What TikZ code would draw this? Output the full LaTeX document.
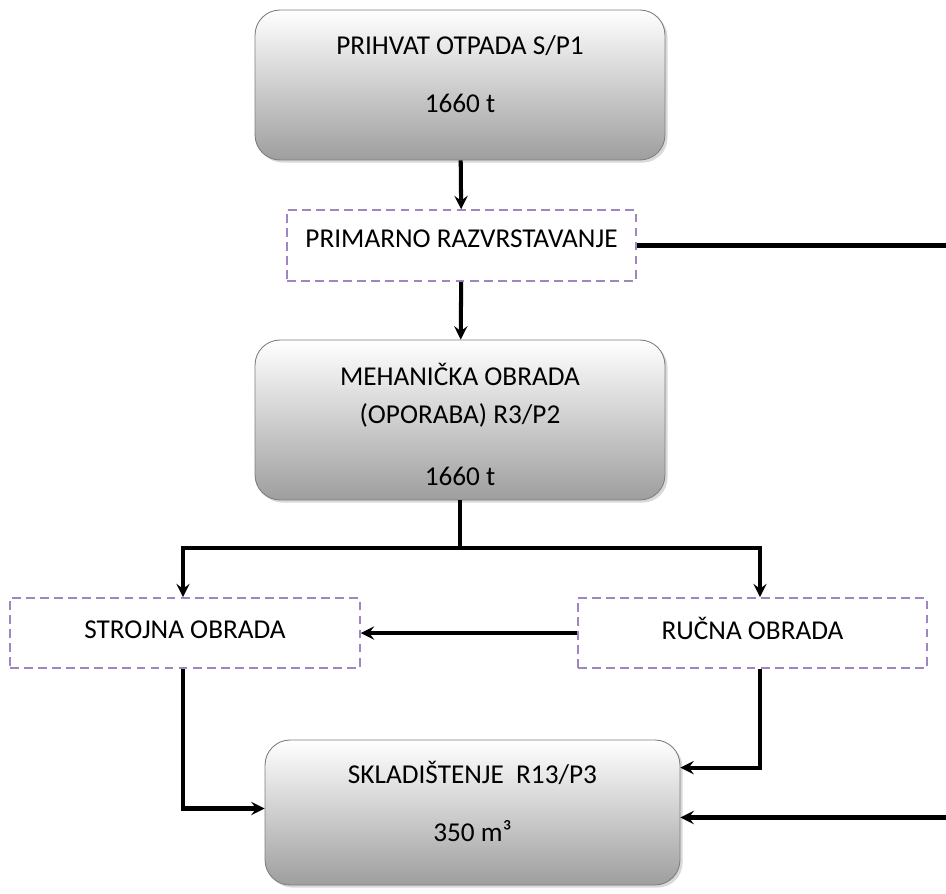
\documentclass[tikz,border=0pt]{standalone}
\usepackage{fontspec}
\setmainfont{Carlito}
\usepackage{tikz}
\usetikzlibrary{shapes,arrows,positioning,shadows}
\definecolor{dashpurple}{HTML}{9F86C0}
\definecolor{rimgray}{HTML}{7F7F7F}
\tikzstyle{arrow} = [line width=2.3pt,->,>=stealth]
\tikzstyle{flow} = [line width=2.3pt]
\tikzstyle{stage} = [rectangle, rounded corners=0.5cm, draw=rimgray, line width=0.5pt,
  top color=white, bottom color=black!38, inner sep=0pt, align=center,
  drop shadow={shadow xshift=1.5pt, shadow yshift=-1.5pt, opacity=0.3},
  font=\fontsize{15.5}{20.4}\selectfont]
\tikzstyle{substage} = [rectangle, draw=dashpurple, line width=0.9pt,
  dash pattern=on 5pt off 3pt, fill=white, inner sep=0pt, align=center,
  font=\fontsize{15.5}{20.4}\selectfont]

\begin{document}
\begin{tikzpicture}[x=0.02cm, y=-0.02cm]
\useasboundingbox (0,0) rectangle (946,893);
% glavni tok
\node[stage, minimum width=8.2cm, minimum height=3cm, text depth=0.43cm] (prihvat) at (460,85)
  {PRIHVAT OTPADA S/P1\\[0.44cm]1660 t};
\node[substage, minimum width=6.98cm, minimum height=1.42cm, text depth=0.27cm] (primarno) at (461.5,245.5)
  {PRIMARNO RAZVRSTAVANJE};
\node[stage, minimum width=8.2cm, minimum height=3.2cm] (mehanicka) at (460,420)
  {\rule{0pt}{0.63cm}MEHANIČKA OBRADA\\[0.05cm](OPORABA) R3/P2\\[0.52cm]1660 t};
\node[substage, minimum width=7cm, minimum height=1.4cm, text depth=0.15cm] (strojna) at (185,633)
  {STROJNA OBRADA};
\node[substage, minimum width=6.98cm, minimum height=1.4cm, text depth=0.2cm] (rucna) at (752.5,633)
  {RUČNA OBRADA};
\node[stage, minimum width=8.3cm, minimum height=2.9cm, text depth=0.43cm] (skladistenje) at (472.5,812.5)
  {SKLADIŠTENJE~ R13/P3\\[0.44cm]350 m³};
\coordinate (grana) at (460,548);

% veze
\draw[arrow] (prihvat) -- (primarno);
\draw[arrow] (primarno) -- (mehanicka);
\draw[arrow] (primarno.east) -- ++(330,0) |- ([yshift=-0.1cm]skladistenje.east);
\draw[flow] (mehanicka) -- (grana);
\draw[arrow] (grana) -| ([xshift=-0.04cm]strojna.north);
\draw[arrow] (grana) -| ([xshift=0.15cm]rucna.north);
\draw[arrow] (rucna) -- (strojna);
\draw[arrow] ([xshift=-0.04cm]strojna.south) |- ([yshift=0.08cm]skladistenje.west);
\draw[arrow] ([xshift=0.15cm]rucna.south) |- ([yshift=-0.56cm]skladistenje.north east);
\end{tikzpicture}
\end{document}
